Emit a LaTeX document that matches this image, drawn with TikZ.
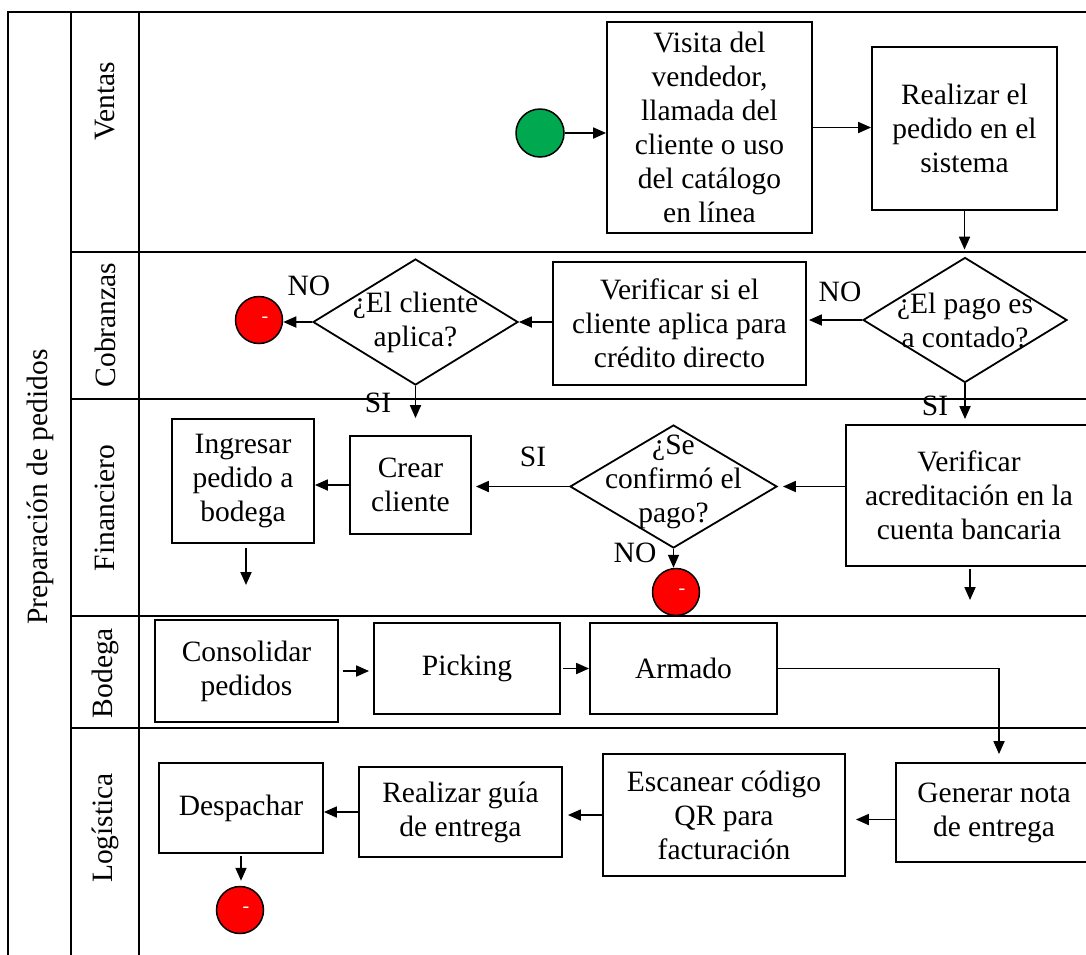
\documentclass[tikz,border=0pt]{standalone}
\usepackage{fontspec}
\setmainfont{Liberation Serif}
\usetikzlibrary{shapes.geometric,arrows.meta}
\definecolor{startgreen}{RGB}{0,168,80}
\begin{document}
\begin{tikzpicture}[x=1pt,y=-1pt,
  every node/.style={font=\fontsize{29.5}{34}\selectfont},
  box/.style={draw, line width=1.8pt, align=center, inner sep=0pt},
  dec/.style={draw, diamond, line width=1.8pt, inner sep=0pt},
  endc/.style={circle, draw, fill=red, line width=1.5pt, inner sep=0pt, minimum size=47pt,
    label={[text=white, xshift=6pt, font=\fontsize{20}{20}\selectfont]center:-}},
  arr/.style={-{Triangle[length=13pt,width=11pt]}, line width=1.8pt},
  lane/.style={line width=1.9pt},
  lbl/.style={inner sep=0pt}]
\clip (0,0) rectangle (1086,954);
\fill[white] (0,0) rectangle (1086,954);
% pool and lanes
\draw[lane] (8,960) -- (8,12) -- (1090,12);
\draw[lane] (71,12) -- (71,960);
\draw[lane] (139,12) -- (139,960);
\draw[lane] (71,252) -- (1090,252);
\draw[lane] (71,399) -- (1090,399);
\draw[lane] (71,616) -- (1090,616);
\draw[lane] (71,728) -- (1090,728);
\node[rotate=90] (pool) at (40,487) {Preparación de pedidos};
\node[rotate=90] (lv) at (105,101) {Ventas};
\node[rotate=90] (lc) at (105,325) {Cobranzas};
\node[rotate=90] (lf) at (105,508) {Financiero};
\node[rotate=90] (lb) at (105,673) {Bodega};
\node[rotate=90] (ll) at (105,828) {Logística};
% Ventas
\node[circle, draw, fill=startgreen, line width=1.5pt, minimum size=48pt, inner sep=0pt] (start) at (540,133) {};
\node[box, minimum width=205pt, minimum height=211pt, text depth=-6pt] (visita) at (709.5,127.5) {Visita del\\vendedor,\\llamada del\\cliente o uso\\del catálogo\\en línea};
\node[box, minimum width=185pt, minimum height=163pt] (realizar) at (964.5,128.5) {Realizar el\\pedido en el\\sistema};
% Cobranzas
\node[dec, minimum width=204pt, minimum height=125pt,
  label={[align=center]center:{¿El pago es\\a contado?}}] (d1) at (965,320) {};
\node[box, minimum width=253pt, minimum height=123pt] (verif1) at (679.5,323.5) {Verificar si el\\cliente aplica para\\crédito directo};
\node[dec, minimum width=205pt, minimum height=126pt,
  label={[align=center]center:{¿El cliente\\aplica?}}] (d2) at (415.5,322) {};
\node[endc] (endA) at (259,320) {};
% Financiero
\node[box, minimum width=142pt, minimum height=124pt] (ingresar) at (243,481) {Ingresar\\pedido a\\bodega};
\node[box, minimum width=121pt, minimum height=98pt] (crear) at (410.5,485) {Crear\\cliente};
\node[dec, minimum width=207pt, minimum height=123pt,
  label={[align=center, yshift=5pt]center:{¿Se\\confirmó el\\pago?}}] (d3) at (673.5,486.5) {};
\node[endc] (endB) at (676,592) {};
\node[box, minimum width=246pt, minimum height=141pt] (verif2) at (969,495.5) {Verificar\\acreditación en la\\cuenta bancaria};
\coordinate (f1) at (246,585);
\coordinate (f2) at (970,600);
% Bodega
\node[box, minimum width=183pt, minimum height=102pt] (consolidar) at (246.5,671) {Consolidar\\pedidos};
\node[box, minimum width=186pt, minimum height=91pt] (picking) at (467,668.5) {Picking};
\node[box, minimum width=187pt, minimum height=91pt] (armado) at (683.5,668.5) {Armado};
% Logistica
\node[box, minimum width=196pt, minimum height=99pt] (generar) at (994,812.5) {Generar nota\\de entrega};
\node[box, minimum width=242pt, minimum height=122pt] (escanear) at (724,815) {Escanear código\\QR para\\facturación};
\node[box, minimum width=203pt, minimum height=90pt] (guia) at (460.5,812) {Realizar guía\\de entrega};
\node[box, minimum width=164pt, minimum height=90pt] (despachar) at (241,808) {Despachar};
\node[endc] (endC) at (240,910) {};
% labels
\node[lbl] (no1) at (840,292) {NO};
\node[lbl] (si1) at (935,406) {SI};
\node[lbl] (no2) at (309,286) {NO};
\node[lbl] (si2) at (378,403) {SI};
\node[lbl] (si3) at (533,457) {SI};
\node[lbl] (no3) at (635,553) {NO};
% connectors
\draw[arr] (start.east) -- (start.east -| visita.west);
\draw[arr] (visita.east) -- (visita.east -| realizar.west);
\draw[arr, shorten >=7pt] (realizar.south) -- (realizar.south |- d1.north);
\draw[arr, shorten >=2pt] (d1.west) -- (d1.west -| verif1.east);
\draw[arr] (verif1.west |- d2.east) -- (d2.east);
\draw[arr] (d2.west) -- (d2.west -| endA.east);
\draw[arr, shorten >=17pt] (d2.south) -- (d2.south |- crear.north);
\draw[arr, shorten >=4pt] (d3.west) -- (d3.west -| crear.east);
\draw[arr] (crear.west) -- (crear.west -| ingresar.east);
\draw[arr, shorten >=5pt] (verif2.west |- d3.east) -- (d3.east);
\draw[arr, shorten >=5pt] (d1.south) -- (d1.south |- verif2.north);
\draw[arr] (d3.south) -- (d3.south |- endB.north);
\draw[arr, shorten <=4pt] (ingresar.south -| f1) -- (f1);
\draw[arr, shorten <=2pt] (verif2.south -| f2) -- (f2);
\draw[arr, shorten <=4pt, shorten >=4pt] (consolidar.east) -- (consolidar.east -| picking.west);
\draw[arr, shorten <=2pt] (picking.east) -- (armado.west);
\draw[arr, shorten >=8pt] (armado.east) -| ([xshift=5pt]generar.north);
\draw[arr, shorten >=10pt] ([yshift=-7pt]generar.west) -- ([yshift=-7pt]generar.west -| escanear.east);
\draw[arr, shorten >=5pt] (escanear.west) -- (escanear.west -| guia.east);
\draw[arr] (guia.west) -- (guia.west -| despachar.east);
\draw[arr, shorten <=2pt, shorten >=5pt] (despachar.south) -- (despachar.south |- endC.north);
\end{tikzpicture}
\end{document}
